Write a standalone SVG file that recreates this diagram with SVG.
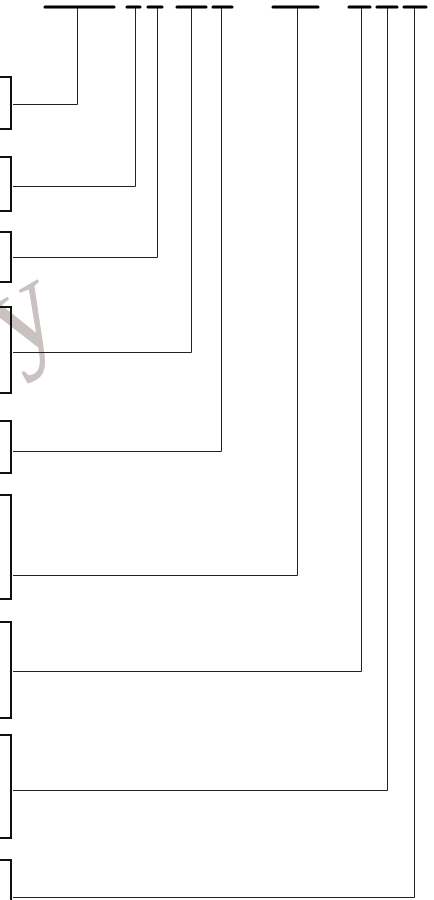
<svg xmlns="http://www.w3.org/2000/svg" width="434" height="900" viewBox="0 0 434 900">
<style>
.box{fill:#fff;stroke:#111;stroke-width:2}
.bar{stroke:#000;stroke-width:3;stroke-linecap:round}
.con{fill:none;stroke:#222;stroke-width:1}
.wm{font-family:"Liberation Serif",serif;font-size:128px;fill:#c9c2c0}
</style>
<rect width="434" height="900" fill="#fff"/>
<text class="wm" transform="translate(12,362) rotate(-30)">y</text>
<g id="connectors">
<path class="con" d="M13,104.5 H77.5 V7"/>
<path class="con" d="M13,186.5 H135.5 V7"/>
<path class="con" d="M13,257.5 H157.5 V7"/>
<path class="con" d="M13,352.5 H191.5 V7"/>
<path class="con" d="M13,451.5 H221.5 V7"/>
<path class="con" d="M13,575.5 H297.5 V7"/>
<path class="con" d="M13,671.5 H361.5 V7"/>
<path class="con" d="M13,790.5 H387.5 V7"/>
<path class="con" d="M13,897.5 H414.5 V7"/>
</g>
<g id="top-bars">
<g id="bar1"><line class="bar" x1="45" y1="7" x2="114" y2="7"/></g>
<g id="bar2"><line class="bar" x1="127" y1="7" x2="140" y2="7"/></g>
<g id="bar3"><line class="bar" x1="148" y1="7" x2="162" y2="7"/></g>
<g id="bar4"><line class="bar" x1="177" y1="7" x2="206" y2="7"/></g>
<g id="bar5"><line class="bar" x1="213" y1="7" x2="232" y2="7"/></g>
<g id="bar6"><line class="bar" x1="273" y1="7" x2="318" y2="7"/></g>
<g id="bar7"><line class="bar" x1="349" y1="7" x2="370" y2="7"/></g>
<g id="bar8"><line class="bar" x1="377" y1="7" x2="397" y2="7"/></g>
<g id="bar9"><line class="bar" x1="404" y1="7" x2="426" y2="7"/></g>
</g>
<g id="node1"><rect class="box" x="-50" y="77" width="61" height="52"/></g>
<g id="node2"><rect class="box" x="-50" y="157" width="61" height="54"/></g>
<g id="node3"><rect class="box" x="-50" y="232" width="61" height="50"/></g>
<g id="node4"><rect class="box" x="-50" y="307" width="61" height="86" fill-opacity="0"/></g>
<g id="node5"><rect class="box" x="-50" y="421" width="61" height="52"/></g>
<g id="node6"><rect class="box" x="-50" y="495" width="61" height="104"/></g>
<g id="node7"><rect class="box" x="-50" y="622" width="61" height="96"/></g>
<g id="node8"><rect class="box" x="-50" y="735" width="61" height="103"/></g>
<g id="node9"><rect class="box" x="-50" y="860" width="61" height="60"/></g>
</svg>
